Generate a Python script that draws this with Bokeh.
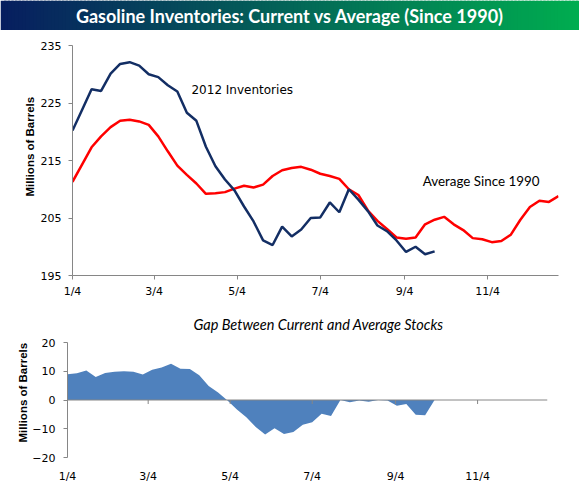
import numpy as np
from bokeh.plotting import figure
from bokeh.layouts import column, row
from bokeh.models import Range1d, FixedTicker, Span, Title
from bokeh.core.properties import value
from bokeh.embed import file_html
from bokeh.resources import INLINE

# ---------------- data ----------------
title_text = "Gasoline Inventories: Current vs Average (Since 1990)"
subtitle_text = "Gap Between Current and Average Stocks"
y_label = "Millions of Barrels"
label_2012 = "2012 Inventories"
label_avg = "Average Since 1990"

# x ticks: days counted from Jan 4
tick_days = [0, 60, 121, 182, 244, 305]
tick_labels = ["1/4", "3/4", "5/4", "7/4", "9/4", "11/4"]

top_y_ticks = [195, 205, 215, 225, 235]
bot_y_ticks = [-20, -10, 0, 10, 20]

# weekly 2012 inventories (weeks 0..38)
inv_2012 = [220.2, 223.8, 227.4, 227.1, 230.1, 231.8, 232.1, 231.5, 230.0, 229.5,
            228.1, 227.0, 223.3, 221.9, 217.4, 214.0, 211.7, 209.8, 207.0, 204.4,
            201.1, 200.3, 203.5, 201.8, 203.0, 205.0, 205.1, 207.7, 206.0, 210.0,
            208.2, 206.2, 203.7, 202.7, 201.1, 199.1, 200.0, 198.7, 199.2]

# weekly average since 1990 (weeks 0..51)
avg_1990 = [211.3, 214.3, 217.3, 219.2, 220.8, 221.9, 222.1, 221.8, 221.2, 219.2,
            216.6, 214.1, 212.5, 211.0, 209.2, 209.3, 209.5, 210.1, 210.6, 210.3,
            210.8, 212.3, 213.3, 213.7, 213.9, 213.4, 212.7, 212.3, 211.8, 210.0,
            209.0, 206.3, 204.5, 203.1, 201.6, 201.4, 201.6, 203.9, 204.7, 205.2,
            203.9, 202.9, 201.5, 201.3, 200.8, 201.0, 202.1, 204.7, 206.9, 208.0,
            207.8, 208.8]

# gap between current and average (weeks 0..39)
gap = [9.0, 9.3, 10.3, 8.0, 9.4, 9.8, 10.0, 9.8, 8.9, 10.5,
       11.3, 12.6, 10.9, 10.8, 8.6, 4.9, 2.6, -0.2, -3.3, -6.0,
       -9.4, -12.0, -9.8, -11.8, -11.1, -8.6, -7.7, -4.8, -5.6, 0.0,
       -0.8, -0.2, -0.6, 0.0, -0.2, -2.0, -1.4, -5.1, -5.3, 0.0]

week_days_avg = [7 * i for i in range(len(avg_1990))]
week_days_inv = [7 * i for i in range(len(inv_2012))]
week_days_gap = [7 * i for i in range(len(gap))]

# ---------------- styling ----------------
W = 579
AXIS_COLOR = "#868686"
TICK_FONT = "DejaVu Sans"
NAVY = "#132e64"
X_END = 357


def style_axis(ax, standoff):
    ax.axis_line_color = AXIS_COLOR
    ax.major_tick_line_color = AXIS_COLOR
    ax.major_tick_out = 4
    ax.major_tick_in = 0
    ax.minor_tick_line_color = None
    ax.major_label_text_font = TICK_FONT
    ax.major_label_text_font_size = "11px"
    ax.major_label_text_color = "#000000"
    ax.major_label_standoff = standoff


def ylabel(fig, offset, standoff):
    fig.add_layout(Title(text=y_label, align="left", offset=offset, standoff=standoff,
                         text_font="Liberation Sans", text_font_style="bold",
                         text_font_size="11.5px", text_color="#000000"), "left")


# ---------------- title bar ----------------
tfig = figure(width=W, height=30, x_range=Range1d(0, 1), y_range=Range1d(0, 1),
              toolbar_location=None, output_backend="svg",
              x_axis_location=None, y_axis_location=None, min_border=0)
tfig.grid.visible = False
tfig.outline_line_color = None
n = 160
edges = np.linspace(0, 1, n + 1)
c0 = np.array([8, 30, 96])
c1 = np.array([0, 174, 80])
cols = []
for i in range(n):
    t = (i + 0.5) / n
    c = (c0 * (1 - t) + c1 * t).astype(int)
    cols.append("#%02x%02x%02x" % tuple(c))
tfig.quad(left=edges[:-1], right=edges[1:] + 0.004, bottom=0, top=1,
          fill_color=cols, line_color=None)
tfig.text(x=[0.5], y=[0.47], text=[title_text], text_align="center",
          text_baseline="middle", text_color="white",
          text_font=value("Lato"), text_font_style="bold",
          text_font_size=value("18px"))

# ---------------- top chart ----------------
top = figure(width=W, height=270, x_range=Range1d(0, X_END), y_range=Range1d(195, 235),
             toolbar_location=None, output_backend="svg",
             min_border_left=72, min_border_right=21, min_border_top=15,
             min_border_bottom=24)
top.grid.visible = False
top.outline_line_color = None
top.line(week_days_avg, avg_1990, line_color="#ff0000", line_width=2.5)
top.line(week_days_inv, inv_2012, line_color=NAVY, line_width=2.5)

top.xaxis.ticker = FixedTicker(ticks=tick_days)
top.xaxis.major_label_overrides = {d: l for d, l in zip(tick_days, tick_labels)}
top.yaxis.ticker = FixedTicker(ticks=top_y_ticks)
style_axis(top.xaxis[0], 5)
style_axis(top.yaxis[0], 7)
ylabel(top, 79, 3)

top.text(x=[87.4], y=[227.25], text=[label_2012], text_align="left",
         text_baseline="middle", text_color="#000000",
         text_font=value("DejaVu Sans"), text_font_size=value("12px"))
top.text(x=[257.2], y=[211.5], text=[label_avg], text_align="left",
         text_baseline="middle", text_color="#000000",
         text_font=value("Lato"), text_font_size=value("13.4px"))

# ---------------- bottom chart ----------------
bot = figure(width=W, height=185, x_range=Range1d(0, X_END), y_range=Range1d(-20, 20),
             toolbar_location=None, output_backend="svg",
             min_border_left=67, min_border_right=32, min_border_top=42,
             min_border_bottom=28)
bot.grid.visible = False
bot.outline_line_color = None
bot.title = Title(text=subtitle_text, align="left", offset=126,
                  text_font="Lato", text_font_style="italic",
                  text_font_size="14.5px", text_color="#000000", standoff=20)
bot.varea(x=week_days_gap, y1=0, y2=gap, fill_color="#4f81bd")
bot.add_layout(Span(location=0, dimension="width", line_color=AXIS_COLOR, line_width=1))
bot.segment(x0=tick_days, y0=0, x1=tick_days, y1=-1.4, line_color=AXIS_COLOR, line_width=1)

bot.xaxis.ticker = FixedTicker(ticks=tick_days)
bot.xaxis.major_label_overrides = {d: l for d, l in zip(tick_days, tick_labels)}
bot.yaxis.ticker = FixedTicker(ticks=bot_y_ticks)
style_axis(bot.xaxis[0], 12)
bot.xaxis.axis_line_color = None
bot.xaxis.major_tick_line_color = None
bot.xaxis.major_tick_out = 0
style_axis(bot.yaxis[0], 8)
ylabel(bot, 15, 2)

layout = column(row(tfig), row(top), row(bot), spacing=0)

open("out.html", "w").write(file_html(layout, INLINE))
